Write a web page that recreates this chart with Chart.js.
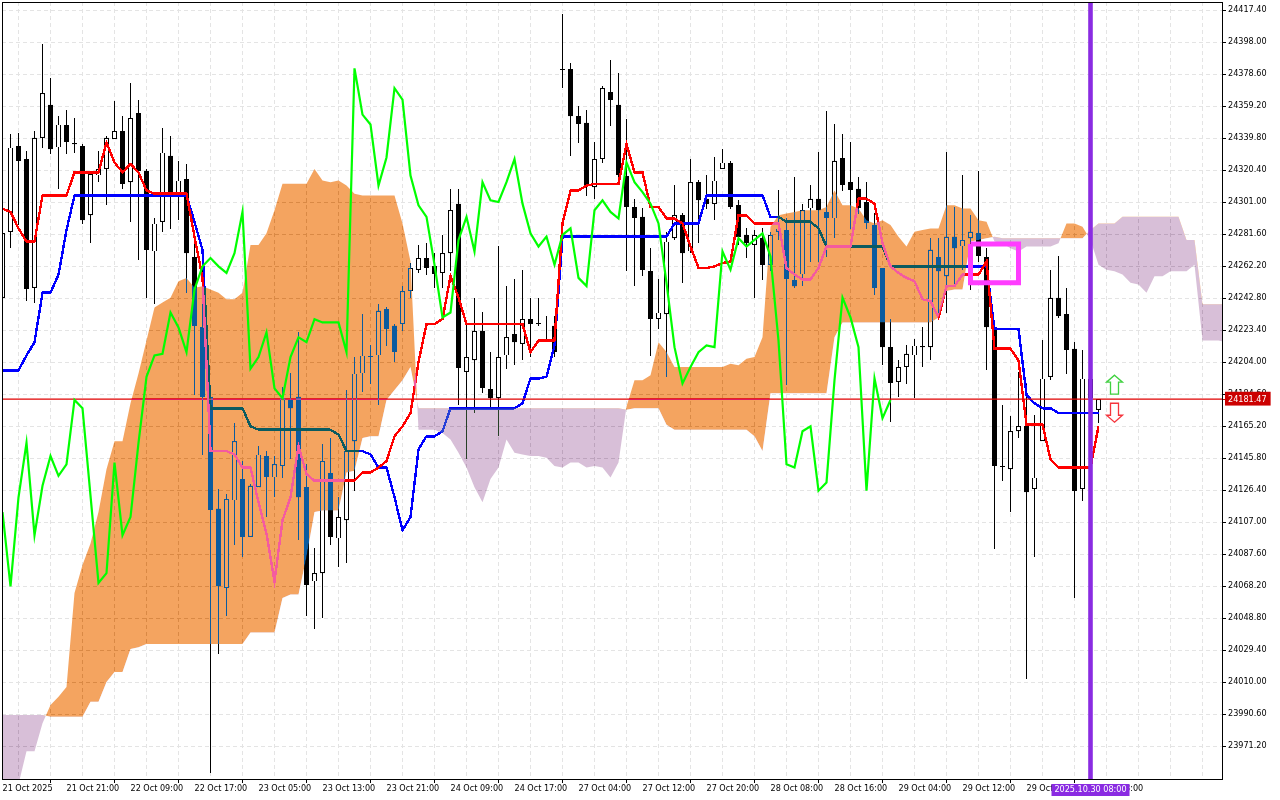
<!DOCTYPE html>
<html>
<head>
<meta charset="utf-8">
<style>
  html, body { margin: 0; padding: 0; background: #fff; }
  canvas { display: block; }
</style>
<script src="https://cdn.jsdelivr.net/npm/chart.js@4/dist/chart.umd.min.js"></script>
</head>
<body>
<canvas id="c" width="1280" height="800"></canvas>
<script>
// time labels, one every 8 candles
const timeLabels = ['21 Oct 2025', '21 Oct 21:00', '22 Oct 09:00', '22 Oct 17:00', '23 Oct 05:00', '23 Oct 13:00',
  '23 Oct 21:00', '24 Oct 09:00', '24 Oct 17:00', '27 Oct 04:00', '27 Oct 12:00', '27 Oct 20:00', '28 Oct 08:00',
  '28 Oct 16:00', '29 Oct 04:00', '29 Oct 12:00', '29 Oct 20:00', '30 Oct 08:00'];
const priceTicks = [24417.4, 24398, 24378.6, 24359.2, 24339.8, 24320.4, 24301, 24281.6, 24262.2, 24242.8, 24223.4, 24204,
  24184.6, 24165.2, 24145.8, 24126.4, 24107, 24087.6, 24068.2, 24048.8, 24029.4, 24010, 23990.6, 23971.2];
const lastPrice = 24181.47;
const markerTime = '2025.10.30 08:00';

const open = [
  24243,24283,24335,24327,24249,24340,24360,24334,24348,24337,
  24335,24293,24317,24321,24339,24344,24313,24355,24320,24271,
  24289,24329,24306,24315,24268,24225,24183,24115,24067,24120,
  24133,24098,24128,24147,24134,24141,24181,24183,24128,24071,
  24076,24137,24097,24108,24156,24197,24208,24208,24236,24226,
  24227,24247,24260,24267,24262,24258,24270,24300,24198,24205,
  24223,24188,24182,24208,24221,24215,24230,24227,24228,24226,
  24382,24382,24353,24349,24310,24327,24368,24360,24317,24298,
  24292,24259,24230,24233,24279,24293,24271,24313,24303,24300,
  24321,24325,24299,24281,24275,24279,24263,24283,24284,24254,
  24257,24297,24303,24295,24291,24328,24313,24309,24301,24287,
  24261,24213,24192,24201,24208,24214,24213,24268,24256,24280,
  24274,24279,24282,24268,24225,24141,24139,24162,24165,24127,
  24156,24195,24243,24233,24212,24127,24182,24175];
const high = [
  24287,24342,24343,24332,24344,24397,24376,24353,24357,24352,
  24336,24319,24332,24341,24362,24353,24373,24363,24321,24291,
  24346,24341,24326,24324,24276,24260,24190,24127,24124,24167,
  24144,24130,24153,24150,24147,24189,24197,24222,24142,24091,
  24154,24158,24122,24187,24207,24233,24214,24239,24237,24227,
  24250,24264,24275,24276,24270,24281,24309,24309,24228,24243,
  24234,24210,24274,24250,24254,24260,24243,24243,24232,24232,
  24415,24385,24359,24357,24337,24371,24387,24379,24351,24303,
  24297,24273,24254,24283,24311,24294,24327,24314,24317,24328,
  24333,24326,24302,24285,24284,24285,24283,24308,24291,24316,
  24300,24311,24331,24356,24348,24342,24337,24316,24313,24294,
  24261,24230,24205,24214,24218,24225,24279,24279,24331,24298,
  24317,24293,24320,24273,24228,24178,24171,24198,24191,24172,
  24217,24260,24268,24249,24216,24211,24198,24181.47];
const low = [
  24243,24273,24287,24241,24240,24334,24330,24309,24330,24331,
  24288,24276,24313,24299,24339,24309,24289,24266,24243,24239,
  24283,24285,24290,24246,24184,24148,23955,24027,24050,24093,
  24086,24098,24128,24110,24122,24134,24145,24096,24050,24042,
  24049,24093,24080,24082,24126,24186,24191,24178,24214,24204,
  24223,24243,24258,24257,24249,24249,24259,24178,24145,24173,
  24185,24176,24159,24200,24202,24205,24207,24226,24217,24207,
  24370,24329,24337,24305,24303,24325,24347,24316,24259,24250,
  24256,24208,24224,24195,24278,24252,24270,24276,24297,24290,
  24321,24297,24275,24267,24243,24254,24259,24278,24190,24249,
  24250,24265,24265,24268,24279,24308,24285,24294,24285,24245,
  24202,24168,24183,24191,24182,24201,24205,24231,24234,24251,
  24260,24248,24265,24199,24091,24132,24113,24158,24012,24086,
  24156,24193,24231,24197,24061,24120,24175,24167];
const close = [
  24282,24334,24326,24248,24340,24367,24333,24348,24337,24336,
  24290,24318,24321,24340,24344,24312,24352,24320,24272,24288,
  24331,24306,24314,24270,24226,24183,24114,24068,24121,24156,
  24098,24129,24148,24134,24142,24182,24176,24122,24069,24076,
  24144,24098,24110,24150,24197,24208,24207,24235,24224,24210,
  24247,24261,24267,24261,24257,24270,24296,24200,24207,24223,
  24188,24182,24207,24219,24216,24230,24227,24228,24228,24210,
  24381,24353,24348,24311,24327,24370,24363,24317,24298,24291,
  24260,24230,24234,24277,24293,24270,24313,24302,24300,24314,
  24325,24298,24280,24276,24281,24263,24281,24285,24254,24250,
  24296,24303,24296,24291,24326,24311,24308,24297,24288,24249,
  24213,24191,24201,24209,24214,24213,24272,24259,24280,24273,
  24278,24283,24268,24225,24141,24140,24162,24165,24125,24134,
  24194,24243,24232,24211,24126,24194,24194,24181.47];

// Ichimoku lines
const tenkan = [
  24297,24295,24285,24277,24277,24305,24305,24305,24305,24319,
  24319,24319,24319,24337,24325,24319,24324,24319,24308,24306,
  24306,24306,24306,24306,24280,24255,24150,24150,24150,24148,
  24140,24140,24119,24100,24071,24108,24122,24153,24136,24132,
  24132,24132,24132,24132,24132,24137,24137,24140,24144,24159,
  24165,24173,24204,24227,24227,24230,24256,24243,24227,24227,
  24227,24227,24227,24227,24227,24227,24210,24217,24217,24217,
  24288,24308,24308,24311,24312,24312,24312,24312,24336,24319,
  24319,24298,24298,24291,24291,24288,24274,24261,24261,24262,
  24264,24265,24293,24293,24288,24288,24288,24288,24261,24257,
  24254,24254,24261,24274,24274,24274,24274,24303,24303,24300,
  24276,24262,24258,24255,24253,24242,24241,24231,24250,24250,
  24257,24257,24257,24265,24212,24212,24212,24205,24166,24166,
  24166,24145,24140,24140,24140,24140,24140,24165];
const kijun = [
  24199,24199,24199,24208,24216,24246,24246,24257,24284,24305,
  24305,24305,24305,24305,24305,24305,24305,24305,24305,24305,
  24305,24305,24305,24305,24289,24272,24176,24176,24176,24176,
  24176,24165,24163,24163,24163,24163,24163,24163,24163,24163,
  24163,24163,24160,24150,24150,24150,24148,24140,24140,24122,
  24102,24110,24151,24159,24159,24162,24176,24176,24176,24176,
  24176,24176,24176,24176,24176,24179,24194,24194,24195,24214,
  24280,24280,24280,24280,24280,24280,24280,24280,24280,24280,
  24280,24280,24280,24280,24288,24288,24288,24288,24305,24305,
  24305,24305,24305,24305,24305,24305,24292,24292,24289,24289,
  24289,24289,24285,24274,24274,24274,24274,24274,24274,24274,
  24274,24262,24262,24262,24262,24262,24262,24262,24262,24262,
  24262,24262,24262,24262,24224,24224,24224,24224,24184,24179,
  24176,24176,24173,24173,24173,24173,24173,24173];
const chikou = [
  24113,24068,24122,24155,24099,24129,24147,24135,24142,24181,
  24176,24123,24070,24076,24143,24099,24110,24155,24195,24208,
  24209,24234,24225,24210,24248,24262,24267,24262,24258,24270,
  24295,24200,24207,24222,24188,24182,24207,24219,24216,24230,
  24228,24228,24228,24210,24382,24354,24348,24311,24328,24370,
  24363,24317,24299,24292,24263,24231,24234,24278,24292,24271,
  24313,24302,24301,24313,24327,24300,24282,24274,24280,24263,
  24281,24285,24255,24250,24296,24302,24295,24291,24325,24313,
  24307,24300,24288,24252,24213,24191,24201,24210,24214,24213,
  24271,24260,24279,24274,24278,24282,24268,24217,24142,24140,
  24162,24165,24126,24131,24193,24243,24231,24213,24126,24194,
  24170,24181];
const spanA = [
  23945,23945,23948,23968,23968,23985,23996,24001,24007,24064,
  24081,24094,24113,24139,24156,24156,24179,24197,24217,24237,
  24240,24243,24253,24255,24249,24250,24248,24246,24242,24242,
  24246,24275,24275,24282,24296,24312,24312,24312,24312,24321,
  24314,24313,24314,24311,24306,24305,24305,24305,24305,24305,
  24288,24265,24163,24163,24163,24161,24157,24149,24140,24128,
  24119,24133,24140,24157,24149,24148,24147,24147,24146,24141,
  24140,24143,24143,24140,24141,24140,24134,24143,24177,24193,
  24193,24196,24216,24210,24201,24201,24201,24201,24201,24201,
  24201,24203,24202,24206,24207,24219,24286,24293,24294,24295,
  24296,24296,24296,24298,24308,24299,24299,24297,24290,24288,
  24290,24287,24280,24274,24283,24284,24285,24285,24299,24299,
  24297,24297,24290,24289,24277,24276,24273,24271,24274,24274,
  24274,24274,24276,24288,24288,24286,24278,24263,24260,24259,
  24257,24252,24251,24246,24256,24256,24259,24259,24259,24263,
  24217,24217,24217,24216];
const spanB = [
  23990,23990,23990,23990,23990,23990,23989,23989,23989,23989,
  23989,23998,23998,24010,24016,24016,24030,24031,24033,24033,
  24033,24033,24033,24033,24033,24033,24033,24033,24033,24033,
  24033,24040,24040,24040,24040,24061,24063,24063,24086,24113,
  24114,24114,24114,24137,24138,24158,24159,24159,24181,24187,
  24193,24201,24176,24176,24176,24176,24176,24176,24176,24176,
  24176,24176,24176,24176,24176,24176,24176,24176,24176,24176,
  24176,24176,24176,24176,24176,24176,24176,24176,24175,24176,
  24176,24176,24176,24166,24163,24163,24163,24163,24163,24163,
  24163,24163,24163,24163,24159,24150,24185,24185,24185,24185,
  24185,24185,24185,24185,24219,24228,24228,24228,24228,24228,
  24228,24228,24228,24228,24228,24228,24228,24231,24247,24248,
  24248,24277,24278,24279,24280,24279,24279,24279,24279,24279,
  24279,24279,24279,24279,24279,24279,24284,24288,24288,24288,
  24292,24292,24292,24292,24292,24292,24292,24292,24278,24278,
  24239,24239,24239,24239];

// objects on the chart: vertical line, magenta box, arrows
const markerIndex = 136;
const boxIndex = [121, 127, 127, 121, 121];
const boxPrice = [24275.6, 24275.6, 24252, 24252, 24275.6];
const arrowIndex = 139;
const arrowUpPrice = 24196;
const arrowDownPrice = 24179;

const priceMax = 24422.25, priceMin = 23951.2;
const indexMin = -0.0625, indexMax = 152.4375;
const xy = arr => arr.map((v, i) => ({ x: i, y: v }));
const line = (label, data, color, order, width) => ({
  type: 'line', label, data: xy(data), borderColor: color, borderWidth: width || 2,
  pointRadius: 0, tension: 0, fill: false, order
});

const FONT = '"DejaVu Sans Condensed", "Liberation Sans", sans-serif';

// terminal look: no antialiasing on the marks under the cloud
const palette = [[255, 255, 255], [0, 0, 0], [255, 0, 0], [0, 0, 255]];
function snapColours(chart) {
  const { ctx, chartArea: a } = chart;
  const img = ctx.getImageData(a.left, a.top, a.right - a.left, a.bottom - a.top);
  const d = img.data;
  for (let i = 0; i < d.length; i += 4) {
    const r = d[i], g = d[i + 1], b = d[i + 2];
    if (r === g && g === b && r >= 208) continue; // white and grid stay
    let best = 0, bestDist = Infinity;
    for (let p = 0; p < palette.length; p++) {
      const c = palette[p];
      const dist = (r - c[0]) ** 2 + (g - c[1]) ** 2 + (b - c[2]) ** 2;
      if (dist < bestDist) { bestDist = dist; best = p; }
    }
    d[i] = palette[best][0]; d[i + 1] = palette[best][1]; d[i + 2] = palette[best][2];
  }
  ctx.putImageData(img, a.left, a.top);
}

// the cloud is painted in difference mode so whatever is under it changes colour
const cloudMode = {
  id: 'cloudMode',
  afterDatasetDraw(chart, args) {
    const label = chart.data.datasets[args.index].label;
    if (label === 'Tenkan') snapColours(chart);
    if (label === 'Senkou B') chart.ctx.globalCompositeOperation = 'difference';
  },
  beforeDatasetDraw(chart, args) {
    if (chart.data.datasets[args.index].label === 'Senkou A') chart.ctx.globalCompositeOperation = 'source-over';
  }
};

function arrow(ctx, x, y, dir) {
  // y is the tip of the arrow, dir -1 points up, 1 points down
  const h = 19 * -dir, head = 7 * -dir;
  ctx.beginPath();
  ctx.moveTo(x, y);
  ctx.lineTo(x + 8, y + head);
  ctx.lineTo(x + 4, y + head);
  ctx.lineTo(x + 4, y + h);
  ctx.lineTo(x - 4, y + h);
  ctx.lineTo(x - 4, y + head);
  ctx.lineTo(x - 8, y + head);
  ctx.closePath();
  ctx.fillStyle = '#fff';
  ctx.fill();
  ctx.stroke();
}

const decorations = {
  id: 'decorations',
  beforeDraw(chart) {
    const ctx = chart.ctx;
    ctx.save();
    ctx.fillStyle = '#fff';
    ctx.fillRect(0, 0, chart.width, chart.height);
    ctx.restore();
  },
  afterDraw(chart) {
    const { ctx, chartArea: a, scales: { x, y } } = chart;
    ctx.save();
    ctx.strokeStyle = '#000';
    ctx.lineWidth = 1;
    ctx.strokeRect(a.left + 0.5, a.top + 0.5, a.right - a.left, a.bottom - a.top);

    ctx.lineWidth = 1.3;
    ctx.strokeStyle = '#3fd13f';
    arrow(ctx, x.getPixelForValue(arrowIndex), y.getPixelForValue(arrowUpPrice), -1);
    ctx.strokeStyle = '#f5343c';
    arrow(ctx, x.getPixelForValue(arrowIndex), y.getPixelForValue(arrowDownPrice - 19 * 0.60625), 1);

    const mx = x.getPixelForValue(markerIndex);
    ctx.fillStyle = '#8a2be2';
    ctx.fillRect(mx - 39, 784, 78, 12);
    ctx.fillStyle = '#fff';
    ctx.font = '9px ' + FONT;
    ctx.textAlign = 'center';
    ctx.textBaseline = 'middle';
    ctx.fillText(markerTime, mx, 790);
    ctx.restore();
  }
};

const isLast = c => c.tick && c.tick.value === lastPrice;
const labelled = c => c.tick && c.tick.value % 8 === 0 && c.tick.value <= markerIndex;

new Chart(document.getElementById('c').getContext('2d', { willReadFrequently: true }), {
  type: 'bar',
  data: {
    datasets: [
      { label: 'Wick', data: low.map((v, i) => ({ x: i, y: [v, high[i]] })), backgroundColor: '#000',
        barThickness: 1, inflateAmount: 0, order: 10 },
      { label: 'Body', data: open.map((v, i) => ({ x: i, y: [v, close[i]] })),
        backgroundColor: open.map((v, i) => close[i] >= v ? '#fff' : '#000'), borderColor: '#000', borderWidth: 1,
        borderSkipped: false, barThickness: 5, minBarLength: 1, inflateAmount: 0, order: 9 },
      line('Kijun', kijun, '#0000ff', 8, 2.4),
      line('Tenkan', tenkan, '#ff0000', 7, 2.4),
      { type: 'line', label: 'Last price', data: [{ x: indexMin, y: lastPrice }, { x: indexMax, y: lastPrice }],
        borderColor: '#e00000', borderWidth: 1.2, pointRadius: 0, order: 6.5 },
      { ...line('Senkou B', spanB, 'transparent', 6), borderWidth: 0 },
      { ...line('Senkou A', spanA, 'transparent', 5), borderWidth: 0,
        fill: { target: 5, above: '#0b5b9f', below: '#274027' } },
      line('Chikou', chikou, '#00ff00', 4, 2.2),
      { type: 'line', label: 'Marker', data: [{ x: markerIndex, y: priceMin }, { x: markerIndex, y: priceMax }],
        borderColor: '#8a2be2', borderWidth: 4.6, pointRadius: 0, order: 3 },
      { type: 'line', label: 'Box', data: boxIndex.map((v, i) => ({ x: v, y: boxPrice[i] })),
        borderColor: '#ff3dff', borderWidth: 5, pointRadius: 0, tension: 0, borderJoinStyle: 'miter', order: 2 }
    ]
  },
  plugins: [cloudMode, decorations],
  options: {
    responsive: false,
    animation: false,
    devicePixelRatio: 1,
    layout: { padding: { left: 2, top: 2, right: 0, bottom: 0 } },
    datasets: { bar: { grouped: false } },
    plugins: {
      legend: { display: false },
      tooltip: { enabled: false },
      filler: { drawTime: 'beforeDatasetDraw' }
    },
    scales: {
      x: {
        type: 'linear', offset: false, min: indexMin, max: indexMax,
        afterFit: s => { s.height = 21; s.paddingLeft = 0; s.paddingRight = 0; },
        afterBuildTicks: s => {
          const t = [];
          for (let i = 0; i <= 152; i += 4) t.push({ value: i });
          s.ticks = t;
        },
        grid: { color: '#e4e4e4', tickLength: 4, tickColor: c => labelled(c) ? '#000' : 'transparent' },
        border: { display: false, dash: [4, 3] },
        ticks: {
          autoSkip: false, maxRotation: 0, minRotation: 0, align: 'start', padding: 0, color: '#000',
          font: { family: FONT, size: 9 },
          callback: v => (v % 8 === 0 && timeLabels[v / 8]) || ''
        }
      },
      y: {
        position: 'right', min: priceMin, max: priceMax,
        afterFit: s => { s.width = 58; s.paddingTop = 0; s.paddingBottom = 0; },
        afterBuildTicks: s => { s.ticks = priceTicks.concat(lastPrice).map(v => ({ value: v })); },
        grid: {
          color: c => isLast(c) ? 'transparent' : '#e4e4e4',
          tickLength: 4,
          tickColor: c => isLast(c) ? '#cc0000' : '#000'
        },
        border: { display: false, dash: [4, 3] },
        ticks: {
          autoSkip: false, padding: 2,
          font: { family: FONT, size: 9 },
          color: c => isLast(c) ? '#fff' : '#000',
          showLabelBackdrop: c => isLast(c),
          backdropColor: '#cc0000',
          backdropPadding: { left: 3, right: 4, top: 2, bottom: 1 },
          callback: v => v.toFixed(2)
        }
      }
    }
  }
});
</script>
</body>
</html>
